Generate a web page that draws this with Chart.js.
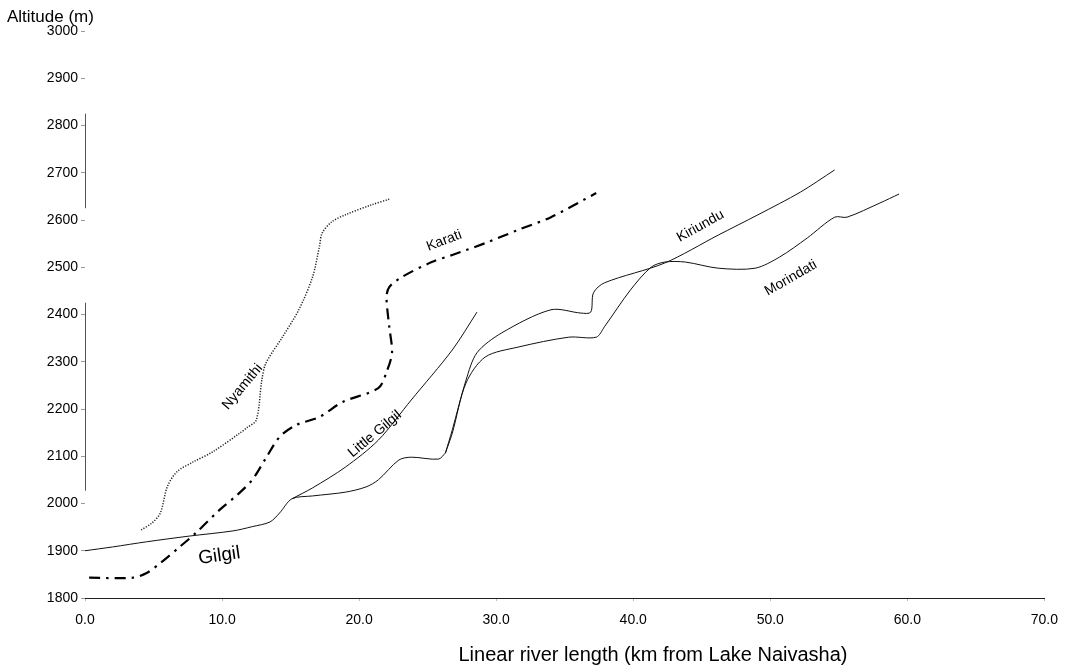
<!DOCTYPE html>
<html>
<head>
<meta charset="utf-8">
<script src="https://cdn.jsdelivr.net/npm/chart.js@4"></script>
<style>
  html, body { margin: 0; padding: 0; background: #fff; }
  #wrap { width: 1069px; height: 668px; }
</style>
</head>
<body>
<div id="wrap"><canvas id="profile"></canvas></div>
<script>
// river profiles, km from Lake Naivasha vs altitude (m)
const gilgilKm  = [0, 2.0, 4.5, 7.6, 10.8, 12.2, 13.5, 14.2, 15.1, 16.6, 19.0, 20.5, 21.4, 22.9, 23.8, 25.8, 26.3];
const gilgilAlt = [1900, 1908, 1919, 1931, 1942, 1951, 1961, 1980, 2010, 2016, 2024, 2035, 2050, 2092, 2098, 2094, 2107];

const littleGilgilKm  = [15.1, 16.6, 19.0, 21.4, 23.8, 26.8, 28.6];
const littleGilgilAlt = [2010, 2033, 2077, 2134, 2219, 2325, 2405];

const kiriunduKm  = [26.3, 26.8, 27.8, 28.6, 30.4, 34.0, 36.2, 36.9, 37.1, 37.9, 42.3, 46.2, 49.1, 52.2, 54.7];
const kiriunduAlt = [2107, 2156, 2261, 2319, 2361, 2410, 2403, 2405, 2446, 2467, 2509, 2568, 2611, 2659, 2706];

const morindatiKm  = [26.3, 26.8, 27.8, 29.2, 31.6, 35.3, 37.3, 37.9, 39.8, 41.3, 42.3, 43.8, 46.2, 48.9, 50.7, 52.7, 54.7, 55.6, 58.0, 59.4];
const morindatiAlt = [2107, 2149, 2255, 2310, 2331, 2352, 2352, 2374, 2452, 2500, 2511, 2511, 2498, 2498, 2522, 2562, 2606, 2606, 2636, 2655];

const nyamithiKm  = [4.1, 4.9, 5.5, 6.0, 6.7, 7.9, 9.3, 11.3, 11.8, 12.5, 12.9, 13.2, 14.4, 15.6, 16.6, 17.1, 17.3, 18.0, 19.0, 20.9, 22.2];
const nyamithiAlt = [1944, 1959, 1980, 2035, 2067, 2088, 2109, 2149, 2160, 2177, 2261, 2297, 2352, 2410, 2479, 2543, 2572, 2596, 2611, 2632, 2644];

const karatiKm  = [0.3, 3.5, 4.5, 5.5, 6.9, 8.1, 9.8, 11.1, 12.2, 13.2, 14.2, 15.4, 17.1, 18.8, 21.4, 22.0, 22.4, 22.2, 22.0, 22.2, 23.1, 25.3, 26.8, 29.2, 31.6, 34.0, 37.3];
const karatiAlt = [1843, 1843, 1853, 1874, 1908, 1938, 1986, 2018, 2050, 2096, 2141, 2166, 2183, 2215, 2244, 2278, 2319, 2374, 2437, 2458, 2479, 2511, 2526, 2551, 2579, 2606, 2657];

const riverNames = ['Gilgil', 'Little Gilgil', 'Kiriundu', 'Morindati', 'Nyamithi', 'Karati'];

function toPoints(km, alt) {
    return km.map((k, i) => ({ x: k, y: alt[i] }));
}

const FONT = '"Liberation Sans", Arial, sans-serif';

// river names written along the lines (data units)
const riverLabels = [
    { text: 'Gilgil', x: 9.8, y: 1889, angle: -8, size: 19 },
    { text: 'Little Gilgil', x: 21.15, y: 2147, angle: -40, size: 14 },
    { text: 'Nyamithi', x: 11.5, y: 2247, angle: -50, size: 14 },
    { text: 'Karati', x: 26.2, y: 2556, angle: -21, size: 14 },
    { text: 'Kiriundu', x: 44.9, y: 2587, angle: -29, size: 14 },
    { text: 'Morindati', x: 51.5, y: 2477, angle: -30, size: 14 }
];

// broken pieces of the y axis line, as in the scan
const yAxisPieces = [[2625, 2825], [2027, 2425]];

const annotate = {
    id: 'annotate',
    afterDraw(chart) {
        const ctx = chart.ctx;
        const xs = chart.scales.x;
        const ys = chart.scales.y;
        ctx.save();

        ctx.strokeStyle = '#555';
        ctx.lineWidth = 1;
        yAxisPieces.forEach(p => {
            ctx.beginPath();
            ctx.moveTo(xs.left + 0.5, ys.getPixelForValue(p[0]));
            ctx.lineTo(xs.left + 0.5, ys.getPixelForValue(p[1]));
            ctx.stroke();
        });

        ctx.fillStyle = '#000';
        ctx.textAlign = 'center';
        ctx.textBaseline = 'middle';
        riverLabels.forEach(l => {
            ctx.save();
            ctx.translate(xs.getPixelForValue(l.x), ys.getPixelForValue(l.y));
            ctx.rotate(l.angle * Math.PI / 180);
            ctx.font = l.size + 'px ' + FONT;
            ctx.fillText(l.text, 0, 0);
            ctx.restore();
        });

        // axis titles
        ctx.font = '17px ' + FONT;
        ctx.textAlign = 'left';
        ctx.fillText('Altitude (m)', 7, 17);
        ctx.font = '20px ' + FONT;
        ctx.textAlign = 'center';
        ctx.fillText('Linear river length (km from Lake Naivasha)', 653, 655);
        ctx.restore();
    }
};

const solid = { borderColor: '#111', borderWidth: 1, pointRadius: 0, tension: 0.3, fill: false };

const ctx = document.getElementById('profile').getContext('2d');
const chart = new Chart(ctx, {
    type: 'line',
    data: {
        datasets: [
            { label: riverNames[0], data: toPoints(gilgilKm, gilgilAlt), ...solid },
            { label: riverNames[1], data: toPoints(littleGilgilKm, littleGilgilAlt), ...solid },
            { label: riverNames[2], data: toPoints(kiriunduKm, kiriunduAlt), ...solid },
            { label: riverNames[3], data: toPoints(morindatiKm, morindatiAlt), ...solid },
            {
                label: riverNames[4], data: toPoints(nyamithiKm, nyamithiAlt),
                borderColor: '#222', borderWidth: 1.5, borderDash: [1.2, 1.5],
                pointRadius: 0, tension: 0.3, fill: false
            },
            {
                label: riverNames[5], data: toPoints(karatiKm, karatiAlt),
                borderColor: '#000', borderWidth: 2.2, borderDash: [11, 6, 2.5, 6],
                pointRadius: 0, tension: 0.3, fill: false
            }
        ]
    },
    options: {
        responsive: true,
        maintainAspectRatio: false,
        animation: false,
        layout: { padding: { top: 31, right: 21, left: 0, bottom: 0 } },
        plugins: {
            legend: { display: false },
            tooltip: { enabled: false },
            title: { display: false }
        },
        scales: {
            x: {
                type: 'linear',
                min: 0,
                max: 70,
                border: { display: true, color: '#222', width: 1 },
                grid: { drawOnChartArea: false, drawTicks: true, tickLength: 3, color: '#bbb' },
                ticks: {
                    stepSize: 10,
                    padding: 11,
                    color: '#000',
                    font: { family: FONT, size: 14 },
                    callback: v => v.toFixed(1)
                },
                afterFit: s => { s.height = 70; }
            },
            y: {
                min: 1800,
                max: 3000,
                border: { display: false },
                grid: { drawOnChartArea: false, drawTicks: true, tickLength: 4, color: '#999' },
                ticks: {
                    stepSize: 100,
                    padding: 3,
                    color: '#000',
                    font: { family: FONT, size: 14 },
                    callback: v => String(v)
                },
                afterFit: s => { s.width = 85; }
            }
        }
    },
    plugins: [annotate]
});
</script>
</body>
</html>
